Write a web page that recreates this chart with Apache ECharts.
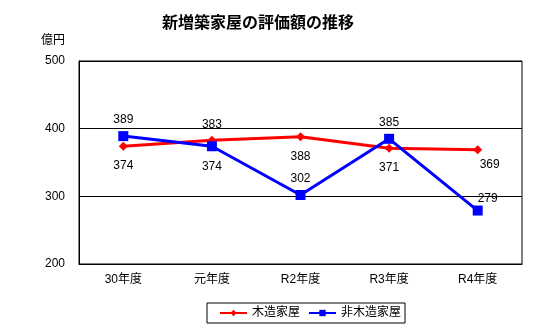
<!DOCTYPE html>
<html>
<head>
<meta charset="utf-8">
<script src="https://cdn.jsdelivr.net/npm/echarts@6/dist/echarts.min.js"></script>
<style>
html,body{margin:0;padding:0;background:#fff;}
#chart{width:554px;height:331px;}
</style>
</head>
<body>
<div id="chart"></div>
<script>
// 年度区分
var categories = ['30年度', '元年度', 'R2年度', 'R3年度', 'R4年度'];
// 評価額（億円）
var woodValues = [374, 383, 388, 371, 369];
var nonWoodValues = [389, 374, 302, 385, 279];
// ラベル位置
var woodLabelPos = ['bottom', 'top', 'bottom', 'bottom', 'right'];
var nonWoodLabelPos = ['top', 'bottom', 'top', 'top', 'right'];
var yTicks = [200, 300, 400, 500];

var font = '"Liberation Sans", "Noto Sans CJK JP", sans-serif';

function buildData(values, positions, isWood) {
  return values.map(function (v, i) {
    var pos = positions[i];
    var lbl = pos === 'top' ? { position: 'top', distance: 5 }
                            : { position: 'bottom', distance: 9 };
    if (pos === 'right') {
      lbl = isWood ? { position: 'bottom', distance: 5, offset: [12, 0] }
                   : { position: 'top', distance: 1, offset: [10, 0] };
    }
    return { value: v, label: lbl };
  });
}

var chart = echarts.init(document.getElementById('chart'));
chart.setOption({
  backgroundColor: '#fff',
  animation: false,
  title: {
    text: '新増築家屋の評価額の推移',
    left: 253, top: 11, textAlign: 'center',
    textStyle: { fontFamily: font, fontSize: 16, fontWeight: 'bold', color: '#000' }
  },
  grid: { left: 79, right: 32, top: 61, bottom: 67, show: true, borderColor: '#000', borderWidth: 1 },
  legend: {
    left: 207, top: 303,
    padding: [4, 4, 4, 12],
    borderColor: '#000', borderWidth: 1,
    itemWidth: 27, itemHeight: 8, itemGap: 8,
    textStyle: { fontFamily: font, fontSize: 12, color: '#000' },
    data: ['木造家屋', '非木造家屋']
  },
  xAxis: {
    type: 'category', data: categories, boundaryGap: true,
    axisLine: { lineStyle: { color: '#000' } },
    axisTick: { show: false },
    axisLabel: { fontFamily: font, fontSize: 12, color: '#000', margin: 10 }
  },
  yAxis: {
    type: 'value', min: yTicks[0], max: yTicks[yTicks.length - 1], interval: 100,
    name: '億円', nameLocation: 'end', nameGap: 14,
    nameTextStyle: { fontFamily: font, fontSize: 12, color: '#000', align: 'right', padding: [0, 14, 0, 0] },
    axisLine: { show: true, lineStyle: { color: '#000' } },
    axisTick: { show: false },
    splitLine: { lineStyle: { color: '#000' } },
    axisLabel: { fontFamily: font, fontSize: 12, color: '#000', margin: 14 }
  },
  series: [
    {
      name: '木造家屋', type: 'line',
      data: buildData(woodValues, woodLabelPos, true),
      color: '#ff0000',
      lineStyle: { width: 3, color: '#ff0000' },
      symbol: 'diamond', symbolSize: 9,
      itemStyle: { color: '#ff0000' },
      label: { show: true, fontFamily: font, fontSize: 12, color: '#000' },
      z: 2
    },
    {
      name: '非木造家屋', type: 'line',
      data: buildData(nonWoodValues, nonWoodLabelPos, false),
      color: '#0000ff',
      lineStyle: { width: 3, color: '#0000ff' },
      symbol: 'rect', symbolSize: 10,
      itemStyle: { color: '#0000ff' },
      label: { show: true, fontFamily: font, fontSize: 12, color: '#000' },
      z: 3
    }
  ]
});
</script>
</body>
</html>
